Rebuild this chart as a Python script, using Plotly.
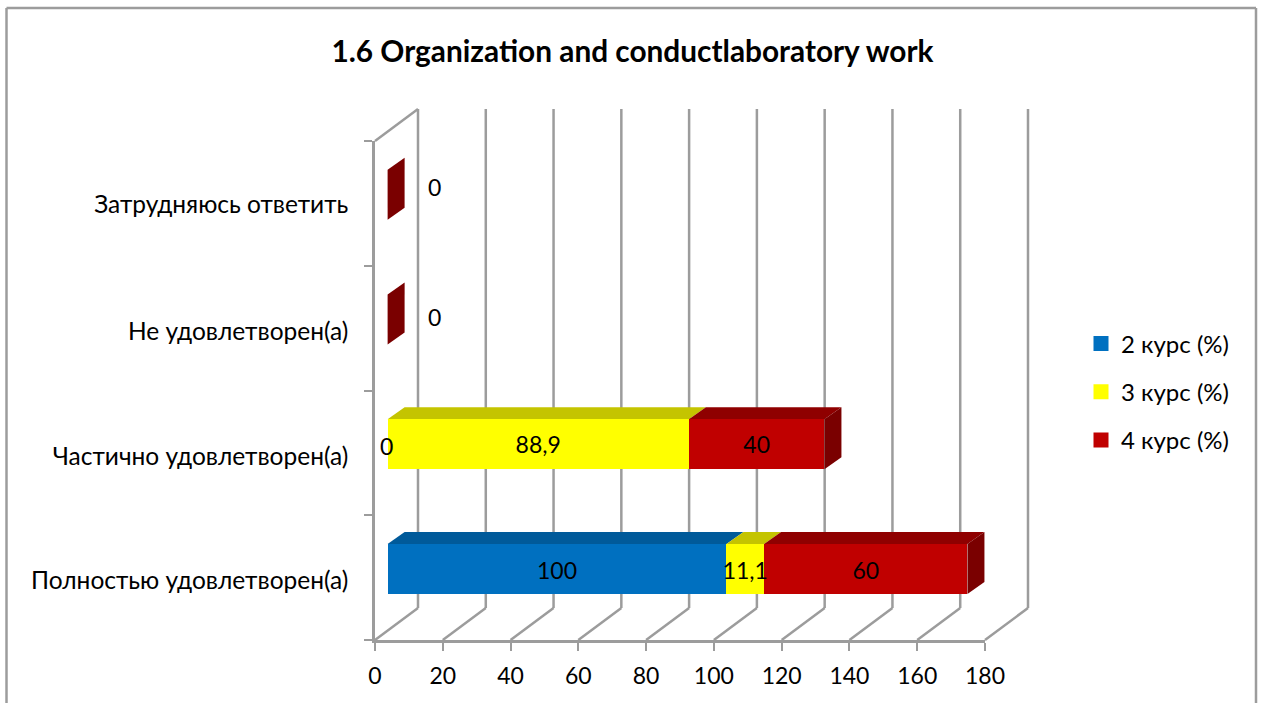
import plotly.graph_objects as go

# ---------- data ----------
categories = ["Полностью удовлетворен(а)", "Частично удовлетворен(а)", "Не удовлетворен(а)", "Затрудняюсь ответить"]
series_names = ["2 курс (%)", "3 курс (%)", "4 курс (%)"]
course2 = [100, 0, None, None]
course3 = [11.1, 88.9, None, None]
course4 = [60, 40, 0, 0]
x_ticks = [0, 20, 40, 60, 80, 100, 120, 140, 160, 180]
title_text = "1.6 Organization and conductlaboratory work"

# ---------- style / layout constants (pixels) ----------
W, H = 1264, 703
L, R, T, B = 375, 985, 141, 640          # plot rectangle = front plane of the 3-D box
PW, PH = R - L, B - T
XMAX, YMAX = 180, 4
WALL_DX, WALL_DY = 43, 32                # depth of the box
BAR_DX, BAR_DY = 17, 12                  # depth of a bar
BAR_SHIFT = 12.6 / (PW / XMAX)           # bars sit inside the box, in x units
BAR_YOFF = 0.07
BAR_H = 50 / (PH / YMAX)
GRID = "#9c9c9c"
LW = 2.5
FONT = "Lato, Carlito, Calibri, sans-serif"
FS = 23
front = ["#0070C0", "#FFFF00", "#C00000"]
top = ["#005A9A", "#C4C400", "#8F0000"]
side = ["#004A80", "#A0A000", "#7A0000"]
values = [course2, course3, course4]
# label nudges: px right, px up
label_nudge = {(0, 0): (0, -4), (1, 0): (0, -4), (2, 0): (0, -4),
               (0, 1): (-1, -5), (1, 1): (0, -3), (2, 1): (0, -3),
               (2, 2): (47, -1), (2, 3): (47, 4)}
label_tick_pos = [0.475, 1.47, 2.47, 3.494]


def px(v, dx=0):
    return v / XMAX + dx / PW


def py(v, dy=0):
    return v / YMAX + dy / PH


def line(x0, y0, x1, y1, width=LW):
    return dict(type="line", xref="paper", yref="paper", x0=x0, y0=y0, x1=x1, y1=y1,
                line=dict(color=GRID, width=width), layer="below")


def poly(pts, color):
    d = "M" + " L".join(f"{a:.5f},{b:.5f}" for a, b in pts) + " Z"
    return dict(type="path", xref="paper", yref="paper", path=d, fillcolor=color,
                line=dict(width=0), layer="below")


shapes = []
# outer frame, cut by the bottom of the picture
fx0, fx1 = (6.5 - L) / PW, (1256 - L) / PW
fy0, fy1 = (B - 8) / PH, (B - 710) / PH
shapes += [line(fx0, fy1, fx0, fy0), line(fx0, fy0, fx1, fy0), line(fx1, fy0, fx1, fy1)]
# left wall top edge
shapes.append(line(px(0), py(YMAX), px(0, WALL_DX), py(YMAX, WALL_DY)))
# back wall verticals and floor diagonals
for t in x_ticks:
    shapes.append(line(px(t, WALL_DX), py(0, WALL_DY), px(t, WALL_DX), py(YMAX, WALL_DY)))
    shapes.append(line(px(t), py(0), px(t, WALL_DX), py(0, WALL_DY)))

traces = []
lab_x, lab_y, lab_t = [], [], []
ycenters = [i + 0.5 + BAR_YOFF for i in range(len(categories))]
running = [BAR_SHIFT] * len(categories)
last_idx = {}
for s, vals in enumerate(values):
    bases = list(running)
    traces.append(go.Bar(
        y=ycenters, x=vals, base=bases, orientation="h", width=BAR_H,
        marker=dict(color=front[s], line=dict(width=0)),
        name=series_names[s], legendgroup=series_names[s], showlegend=False,
        hoverinfo="x+name",
    ))
    for c, v in enumerate(vals):
        if v is None:
            continue
        yc = ycenters[c]
        ytop = yc + BAR_H / 2
        ybot = yc - BAR_H / 2
        x0, x1 = bases[c], bases[c] + v
        # top face
        if v > 0:
            shapes.append(poly([(px(x0), py(ytop)), (px(x0, BAR_DX), py(ytop, BAR_DY)),
                                (px(x1, BAR_DX), py(ytop, BAR_DY)), (px(x1), py(ytop))], top[s]))
        running[c] = x1
        last_idx[c] = s
        dx, dy = label_nudge.get((s, c), (0, 0))
        lab_x.append((x0 + x1) / 2 + dx * XMAX / PW)
        lab_y.append(yc + dy * YMAX / PH)
        lab_t.append(f"{v:g}".replace(".", ","))

# right-hand face of each stack
for c, s in last_idx.items():
    yc = ycenters[c]
    ytop, ybot = yc + BAR_H / 2, yc - BAR_H / 2
    x1 = running[c]
    shapes.append(poly([(px(x1), py(ybot)), (px(x1), py(ytop)), (px(x1, BAR_DX), py(ytop, BAR_DY)),
                        (px(x1, BAR_DX), py(ybot, BAR_DY))], side[s]))

# data labels
traces.append(go.Scatter(x=lab_x, y=lab_y, text=lab_t, mode="text", textposition="middle center",
                         textfont=dict(family=FONT, size=FS, color="#000000"),
                         showlegend=False, hoverinfo="skip", cliponaxis=False))
# legend entries
for s, n in enumerate(series_names):
    traces.append(go.Scatter(x=[None], y=[None], mode="markers", name=n, legendgroup=n,
                             marker=dict(symbol="square", size=15, color=front[s])))

fig = go.Figure(traces)
fig.update_layout(
    width=W, height=H, autosize=False,
    margin=dict(l=L, r=W - R, t=T, b=H - B, pad=0),
    paper_bgcolor="white", plot_bgcolor="rgba(0,0,0,0)",
    barmode="overlay", bargap=0,
    font=dict(family=FONT, size=FS, color="#000000"),
    title=dict(text=title_text, x=632.5 / W, xref="container", xanchor="center",
               y=1 - 52 / H, yref="container", yanchor="middle",
               font=dict(family=FONT, size=29.8, color="#000000", weight="bold")),
    xaxis=dict(range=[0, XMAX], tickvals=x_ticks, ticktext=[str(t) for t in x_ticks],
               showgrid=False, zeroline=False, showline=True, linecolor=GRID, linewidth=LW,
               ticks="outside", ticklen=8, tickwidth=2, tickcolor=GRID, ticklabelstandoff=6,
               tickfont=dict(family=FONT, size=FS), tickangle=0),
    yaxis=dict(range=[0, YMAX], tickvals=label_tick_pos, ticktext=categories,
               showgrid=False, zeroline=False, showline=True, linecolor=GRID, linewidth=LW,
               ticks="", ticklabelstandoff=19, tickfont=dict(family=FONT, size=24.5),
               minor=dict(tickvals=list(range(YMAX + 1)), ticks="outside", ticklen=8, tickwidth=2,
                          tickcolor=GRID, showgrid=False)),
    legend=dict(x=(1081 - L) / PW, y=(B - 392) / PH, xanchor="left", yanchor="middle",
                font=dict(family=FONT, size=24), tracegroupgap=14, bgcolor="rgba(0,0,0,0)"),
    shapes=shapes,
)
fig.write_html("out.html", post_script="document.body.style.margin='0';",
               config={"displayModeBar": False})
